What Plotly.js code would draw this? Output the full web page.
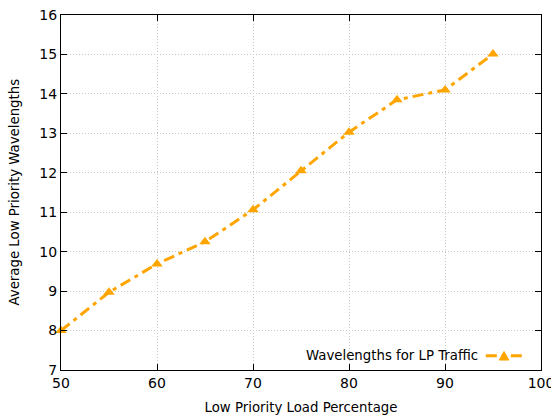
<!DOCTYPE html>
<html>
<head>
<meta charset="utf-8">
<script src="https://cdn.plot.ly/plotly-3.0.1.min.js"></script>
<style>html,body{margin:0;padding:0;background:#fff;}#chart{width:551px;height:420px;}</style>
</head>
<body>
<div id="chart"></div>
<script>
const loadPct = [50, 55, 60, 65, 70, 75, 80, 85, 90, 95];
const lpWavelengths = [8.0, 8.97, 9.69, 10.25, 11.06, 12.05, 13.03, 13.85, 14.1, 15.01];
const seriesName = "Wavelengths for LP Traffic";
const xTitle = "Low Priority Load Percentage";
const yTitle = "Average Low Priority Wavelengths";
const xTicks = [50, 60, 70, 80, 90, 100];
const yTicks = [7, 8, 9, 10, 11, 12, 13, 14, 15, 16];

const orange = "#FFA500";
const font = "DejaVu Sans, sans-serif";
const dashPat = "11px,5px,4px,5px";

const trace = {
  x: loadPct, y: lpWavelengths, type: "scatter", mode: "lines+markers",
  name: seriesName, showlegend: false, cliponaxis: false,
  line: {color: orange, width: 3, dash: dashPat},
  marker: {symbol: "triangle-up", size: 10, color: orange}
};

const axisCommon = {
  showline: true, linecolor: "#000", linewidth: 1, mirror: "allticks",
  ticks: "inside", ticklen: 6, tickcolor: "#000", tickwidth: 1,
  showgrid: true, gridcolor: "#c8c8c8", griddash: "1px,2px", gridwidth: 1,
  zeroline: false, tickfont: {family: font, size: 14, color: "#000"},
  ticklabeloverflow: "allow"
};

const layout = {
  width: 551, height: 420,
  margin: {l: 61, r: 10, t: 15, b: 50},
  paper_bgcolor: "#fff", plot_bgcolor: "#fff",
  font: {family: font, color: "#000"},
  xaxis: Object.assign({}, axisCommon, {
    range: [50, 100], tickvals: xTicks, ticktext: xTicks.map(String),
    title: {text: xTitle, font: {family: font, size: 13.3}, standoff: 12}
  }),
  yaxis: Object.assign({}, axisCommon, {
    range: [7, 16], tickvals: yTicks, ticktext: yTicks.map(String)
  }),
  annotations: [{
    xref: "paper", yref: "paper", x: 0.873, y: 0.04, xanchor: "right", yanchor: "middle",
    text: seriesName, showarrow: false, font: {family: font, size: 13.3, color: "#000"}
  }, {
    xref: "paper", yref: "paper", x: 0, y: 0.5, xshift: -47, xanchor: "center", yanchor: "middle",
    textangle: -90, text: yTitle, showarrow: false, font: {family: font, size: 13.3, color: "#000"}
  }],
  shapes: [
    {type: "line", xref: "paper", yref: "paper", x0: 0.885, x1: 0.965, y0: 0.04, y1: 0.04,
     line: {color: orange, width: 3, dash: dashPat}},
    {type: "path", xref: "paper", yref: "paper",
     path: "M 0.913 0.028 L 0.933 0.028 L 0.923 0.052 Z",
     fillcolor: orange, line: {color: orange, width: 1}}
  ],
  showlegend: false
};

Plotly.newPlot("chart", [trace], layout, {displayModeBar: false, staticPlot: true});
</script>
</body>
</html>
